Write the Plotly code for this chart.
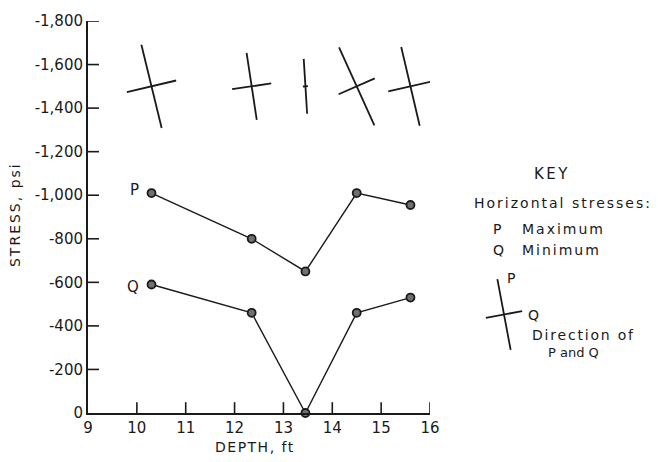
import math
import plotly.graph_objects as go

# Measured horizontal stresses versus depth
depth_ft = [10.3, 12.35, 13.45, 14.5, 15.6]
p_max_psi = [-1010, -800, -650, -1010, -955]
q_min_psi = [-590, -460, 0, -460, -530]
# Direction of P, degrees from vertical (negative = rotated to the left)
p_bearing_deg = [-13.5, -8.5, -3.5, -24.0, -13.0]
symbol_level_psi = -1500

x_tick_vals = [9, 10, 11, 12, 13, 14, 15, 16]
x_tick_text = ["9", "10", "11", "12", "13", "14", "15", "16"]
y_tick_vals = [0, -200, -400, -600, -800, -1000, -1200, -1400, -1600, -1800]
y_tick_text = ["0", "-200", "-400", "-600", "-800", "-1,000", "-1,200",
               "-1,400", "-1,600", "-1,800"]

# Key symbol: sample stresses and bearing
key_p_psi, key_q_psi, key_bearing = 850, 430, -10.5

W, H = 658, 462
MARGIN = dict(l=88, r=228, t=15, b=49)
X_RANGE = [9, 16]
Y_RANGE = [0, -1800]
PLOT_W = W - MARGIN["l"] - MARGIN["r"]
PLOT_H = H - MARGIN["t"] - MARGIN["b"]
PX_PER_X = PLOT_W / (X_RANGE[1] - X_RANGE[0])
PX_PER_PSI_Y = PLOT_H / abs(Y_RANGE[1] - Y_RANGE[0])
ARM_PX_PER_PSI = 0.086   # symbol arm length per psi of stress
MIN_ARM_PX = 5
TICK_PX = 11

INK = "#1a1a1a"
FONT = "DejaVu Sans"


def spaced(text, px=1.5):
    return f'<span style="letter-spacing:{px}px">{text}</span>'


def px_to_paper(px, py):
    return (px - MARGIN["l"]) / PLOT_W, (H - MARGIN["b"] - py) / PLOT_H


def cross_shapes(cx, cy, bearing, p_psi, q_psi, sx, sy, xref, yref):
    """Two crossing segments: long arm along P, short arm along Q.
    sx, sy convert screen pixels (right, up) into the target coordinates."""
    th = math.radians(bearing)
    p_len = max(abs(p_psi) * ARM_PX_PER_PSI, MIN_ARM_PX)
    q_len = max(abs(q_psi) * ARM_PX_PER_PSI, MIN_ARM_PX)
    out = []
    for (ux, uy), length in (((math.sin(th), math.cos(th)), p_len),
                             ((math.cos(th), -math.sin(th)), q_len)):
        hx, hy = ux * length / 2, uy * length / 2
        out.append(dict(type="line", xref=xref, yref=yref,
                        x0=cx - hx * sx, y0=cy - hy * sy,
                        x1=cx + hx * sx, y1=cy + hy * sy,
                        line=dict(color=INK, width=1.8)))
    return out


fig = go.Figure()
marker = dict(symbol="circle", size=8, color="#707070",
              line=dict(color=INK, width=1.8))
fig.add_trace(go.Scatter(x=depth_ft, y=p_max_psi, mode="lines+markers",
                         line=dict(color=INK, width=1.4), marker=marker,
                         name="P", showlegend=False, cliponaxis=False))
fig.add_trace(go.Scatter(x=depth_ft, y=q_min_psi, mode="lines+markers",
                         line=dict(color=INK, width=1.4), marker=marker,
                         name="Q", showlegend=False, cliponaxis=False))

shapes = []
# inward tick marks on both axes
for v in x_tick_vals[1:]:
    shapes.append(dict(type="line", xref="x", yref="paper", x0=v, x1=v,
                       y0=0, y1=TICK_PX / PLOT_H,
                       line=dict(color=INK, width=1.6)))
for v in y_tick_vals[1:]:
    shapes.append(dict(type="line", xref="paper", yref="y", x0=0,
                       x1=TICK_PX / PLOT_W, y0=v, y1=v,
                       line=dict(color=INK, width=1.6)))

# direction symbols above the curves (y axis is reversed: up = more negative)
for d, p, q, b in zip(depth_ft, p_max_psi, q_min_psi, p_bearing_deg):
    shapes += cross_shapes(d, symbol_level_psi, b, p, q,
                           1 / PX_PER_X, -1 / PX_PER_PSI_Y, "x", "y")

# key symbol
kx, ky = px_to_paper(504, 313)
shapes += cross_shapes(kx, ky, key_bearing, key_p_psi, key_q_psi,
                       1 / PLOT_W, 1 / PLOT_H, "paper", "paper")

annotations = []


def note(text, px, py, anchor="left", size=14, angle=0, spacing=1.5):
    x, y = px_to_paper(px, py)
    annotations.append(dict(text=spaced(text, spacing) if spacing else text,
                            x=x, y=y, xref="paper", yref="paper",
                            xanchor=anchor, yanchor="middle", showarrow=False,
                            textangle=angle,
                            font=dict(family=FONT, size=size, color=INK)))


# curve labels
for lbl, vals, dy in (("P", p_max_psi, 3), ("Q", q_min_psi, -2)):
    annotations.append(dict(text=lbl, x=depth_ft[0], y=vals[0], xref="x", yref="y",
                            xanchor="right", yanchor="middle", xshift=-11, yshift=dy,
                            showarrow=False,
                            font=dict(family=FONT, size=15, color=INK)))

# axis titles
note("STRESS, psi", 15, 212, anchor="center", size=14, angle=-90, spacing=2)
note("DEPTH, ft", 255, 448, anchor="center", size=14)

# key text
note("KEY", 552, 170, anchor="center", size=15, spacing=2.5)
note("Horizontal stresses:", 472, 200, spacing=2)
note("P", 491, 226, spacing=0)
note("Maximum", 520, 226, spacing=2)
note("Q", 491, 248, spacing=0)
note("Minimum", 520, 248, spacing=2)
note("P", 505, 276, spacing=0)
note("Q", 526, 313, spacing=0)
note("Direction of", 583, 334, anchor="center", spacing=1.8)
note("P and Q", 573, 352, anchor="center", size=13, spacing=0)

axis_common = dict(showgrid=False, zeroline=False, showline=True,
                   linecolor=INK, linewidth=2, ticks="", tickmode="array",
                   tickfont=dict(family=FONT, size=15, color=INK))

fig.update_layout(
    width=W, height=H, margin=MARGIN,
    paper_bgcolor="white", plot_bgcolor="white",
    xaxis=dict(range=X_RANGE, tickvals=x_tick_vals, ticktext=x_tick_text,
               **axis_common),
    yaxis=dict(range=Y_RANGE, tickvals=y_tick_vals, ticktext=y_tick_text,
               **axis_common),
    shapes=shapes, annotations=annotations,
)

fig.write_html("out.html")
